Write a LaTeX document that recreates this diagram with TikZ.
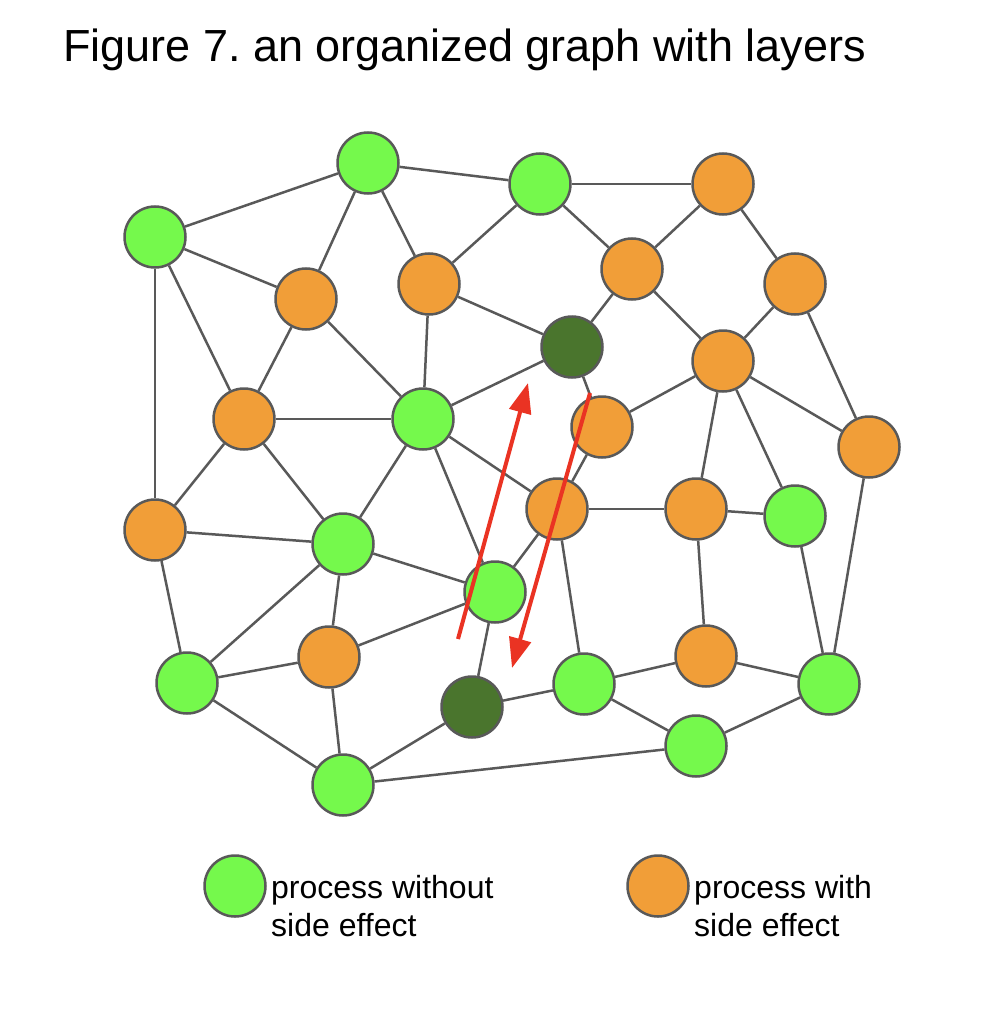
\documentclass[tikz,border=0pt]{standalone}
\usepackage{fontspec}
\setmainfont{Liberation Sans}
\usetikzlibrary{arrows.meta}
\definecolor{lgreen}{HTML}{75F94C}
\definecolor{dgreen}{HTML}{4A752D}
\definecolor{orng}{HTML}{F19E38}
\definecolor{edgegray}{HTML}{595959}
\definecolor{redarr}{HTML}{EA3323}
\tikzset{
  proc/.style={circle, draw=edgegray, line width=2.5pt, minimum size=61pt, inner sep=0pt},
  pure/.style={proc, fill=lgreen},
  side/.style={proc, fill=orng},
  dark/.style={proc, fill=dgreen},
  link/.style={draw=edgegray, line width=2.5pt},
  flow/.style={draw=redarr, line width=4pt, -{Triangle[length=30pt,width=22pt]}},
  lbl/.style={font=\fontsize{32}{38}\selectfont, inner sep=0pt, align=left, anchor=north west}
}
\frenchspacing
\begin{document}
\begin{tikzpicture}[x=1pt,y=-1pt]
\useasboundingbox (0,0) rectangle (986,1016);
\node[anchor=base west, inner sep=0pt, font=\fontsize{45}{50}\selectfont] (title) at (63,62) {Figure 7. an organized graph with layers};
% green
\node[pure] (G1) at (368,163) {};
\node[pure] (G2) at (540,184) {};
\node[pure] (G3) at (155,237) {};
\node[pure] (G4) at (423,419) {};
\node[pure] (G5) at (343,544) {};
\node[pure] (G6) at (795,516) {};
\node[pure] (G7) at (495,592) {};
\node[pure] (G8) at (187,683) {};
\node[pure] (G9) at (584,684) {};
\node[pure] (G10) at (829,684) {};
\node[pure] (G11) at (696,746) {};
\node[pure] (G12) at (343,785) {};
% dark
\node[dark] (D1) at (572,347) {};
\node[dark] (D2) at (472,707) {};
% orange
\node[side] (O1) at (723,184) {};
\node[side] (O2) at (632,269) {};
\node[side] (O3) at (795,284) {};
\node[side] (O4) at (306,299) {};
\node[side] (O5) at (429,284) {};
\node[side] (O6) at (723,361) {};
\node[side] (O7) at (244,419) {};
\node[side] (O8) at (602,427) {};
\node[side] (O9) at (869,447) {};
\node[side] (O10) at (557,509) {};
\node[side] (O11) at (696,509) {};
\node[side] (O12) at (155,530) {};
\node[side] (O13) at (329,657) {};
\node[side] (O14) at (706,656) {};
% edges
\foreach \a/\b in {G3/G1, G1/O4, G1/O5, G1/G2, G2/O1, G2/O5, G2/O2, O1/O2, O1/O3,
  G3/O4, G3/O7, G3/O12, O4/O7, O4/G4, O5/G4, O5/D1, O2/D1, O2/O6, O3/O6, O3/O9,
  D1/G4, D1/O8, O6/O8, O6/O11, O6/G6, O6/O9, O7/G4, O7/O12, O7/G5, G4/G5, G4/G7, G4/O10,
  O12/G5, O12/G8, G5/G7, G5/O13, G5/G8, O8/O10, O10/O11, O10/G7, O10/G9, O11/G6, O11/O14,
  G6/G10, O9/G10, G7/O13, G7/D2, G8/O13, G8/G12, O13/G12, D2/G12, D2/G9, G9/O14, G9/G11,
  O14/G10, G10/G11, G12/G11}
  \draw[link] (\a) -- (\b);
% red arrows
\coordinate (a1s) at (458,639);
\coordinate (a1e) at (528,383);
\coordinate (a2s) at (590,393);
\coordinate (a2e) at (512,668);
\draw[flow] (a1s) -- (a1e);
\draw[flow] (a2s) -- (a2e);
% legend
\node[pure] (LG) at (235,886) {};
\node[side] (LO) at (658,886) {};
\node[lbl] (LGt) at (271,875) {process without\\side effect};
\node[lbl] (LOt) at (694,875) {process with\\side effect};
\end{tikzpicture}
\end{document}
